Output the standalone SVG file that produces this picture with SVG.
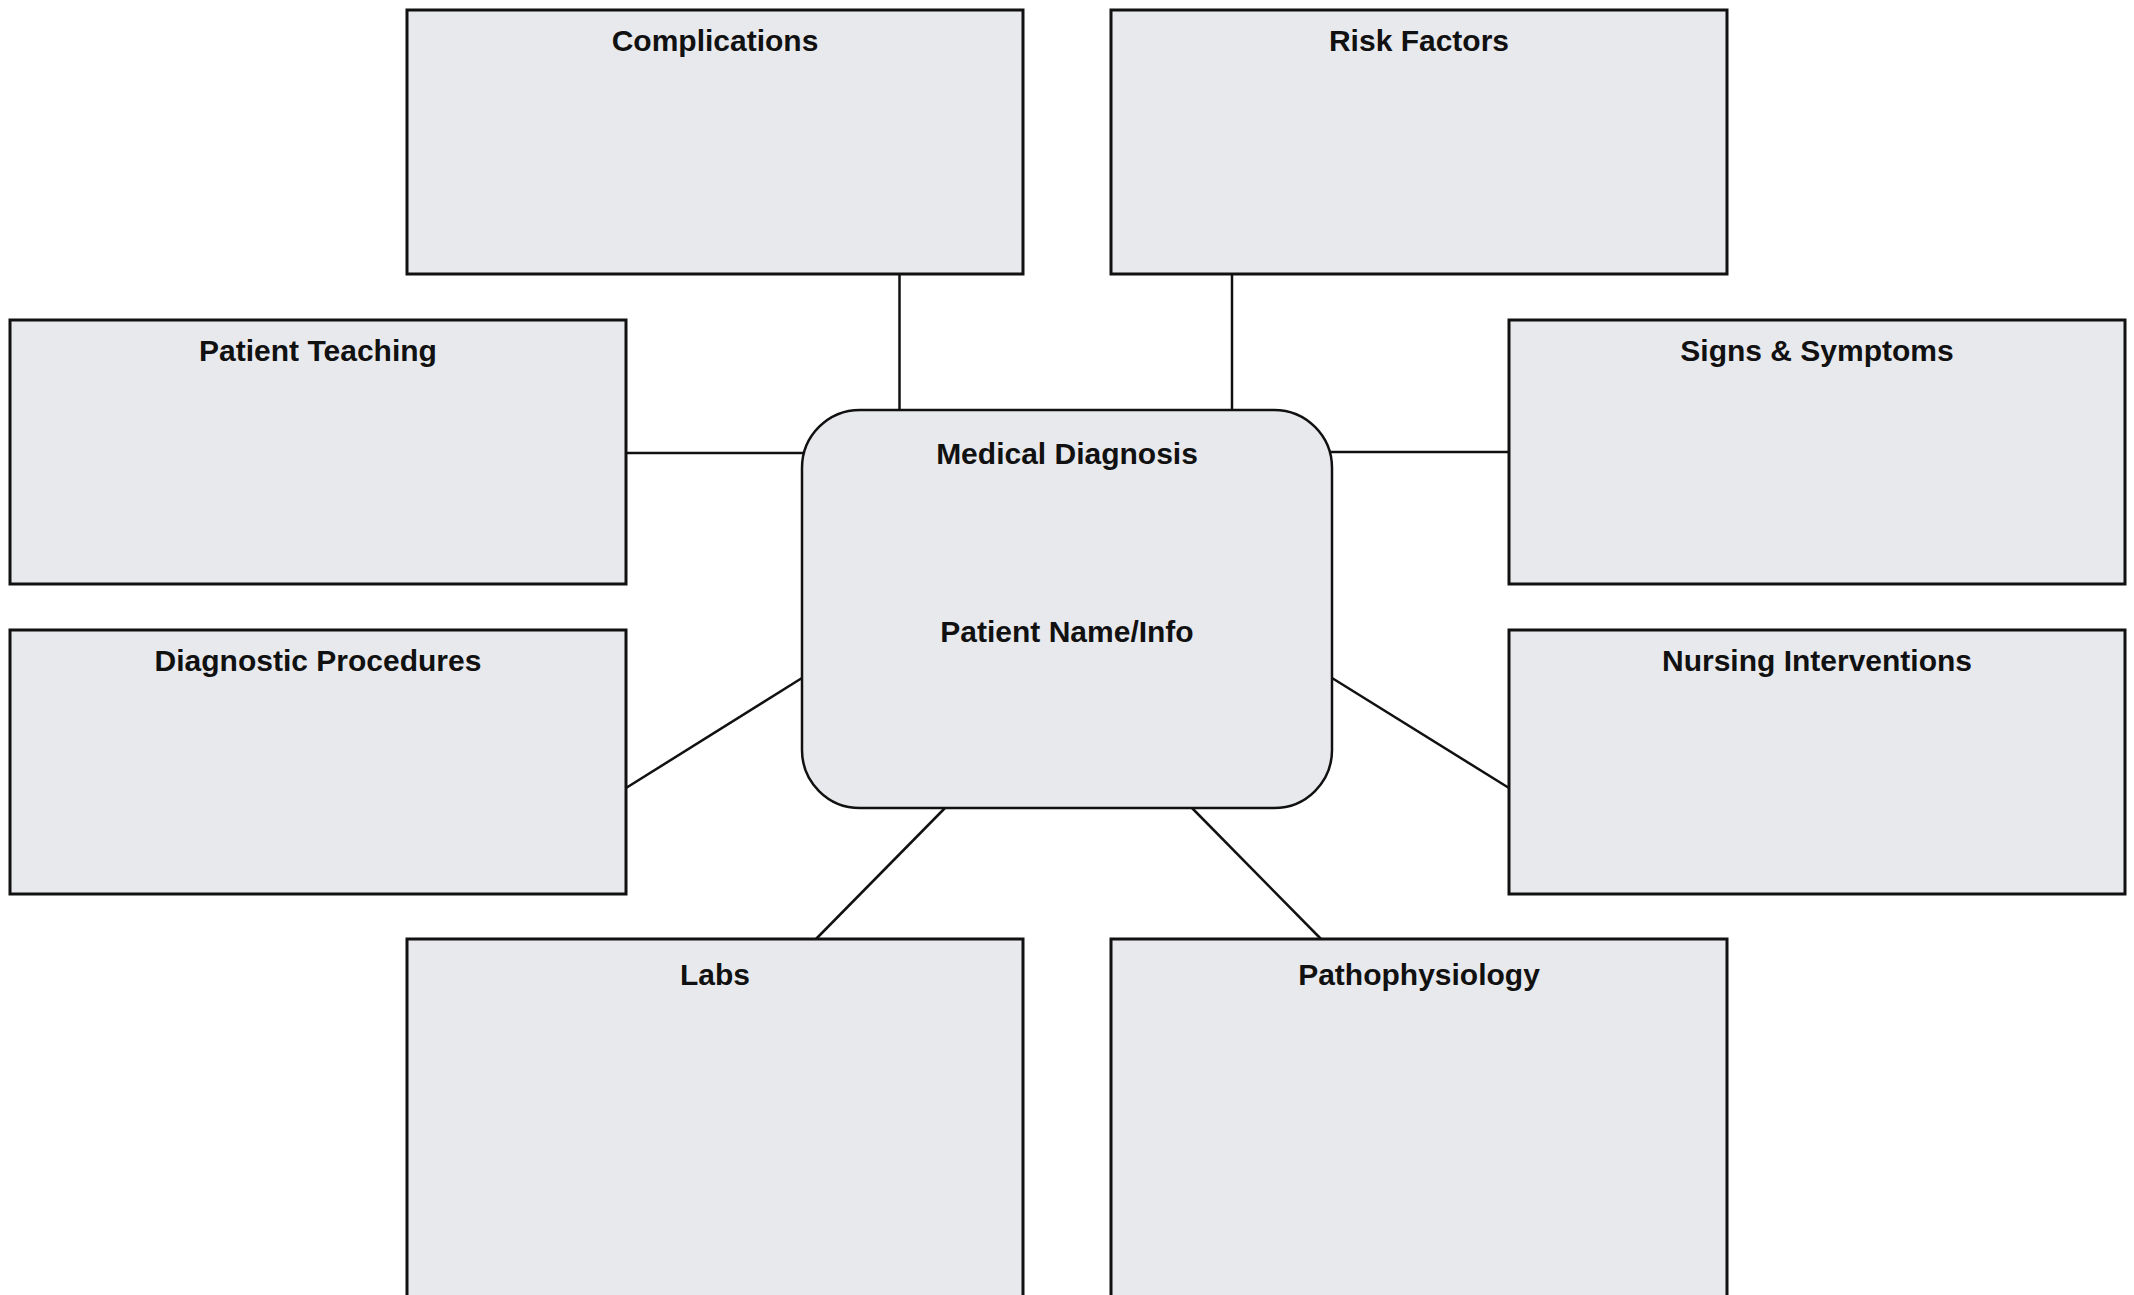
<svg xmlns="http://www.w3.org/2000/svg" width="2134" height="1295" viewBox="0 0 2134 1295">
<style>
.box{fill:#e8e9ed;stroke:#111;stroke-width:3}
.center{fill:#e8e9ed;stroke:#111;stroke-width:2.5}
.conn{stroke:#111;stroke-width:2.5;fill:none}
.t{font-family:"Liberation Sans",Arial,sans-serif;font-weight:bold;font-size:30px;fill:#111;text-anchor:middle}
</style>
<rect width="2134" height="1295" fill="#fff"/>
<g id="connectors">
<line class="conn" x1="899.5" y1="274" x2="899.5" y2="410"/>
<line class="conn" x1="1232" y1="274" x2="1232" y2="410"/>
<line class="conn" x1="626" y1="453" x2="805" y2="453"/>
<line class="conn" x1="1329" y1="452" x2="1509" y2="452"/>
<line class="conn" x1="626" y1="788" x2="802" y2="678"/>
<line class="conn" x1="1332" y1="678" x2="1509" y2="788"/>
<line class="conn" x1="945" y1="808" x2="816" y2="939"/>
<line class="conn" x1="1192" y1="808" x2="1321" y2="939"/>
</g>
<g id="complications"><rect class="box" x="407" y="10" width="616" height="264"/><text class="t" x="715" y="51">Complications</text></g>
<g id="risk-factors"><rect class="box" x="1111" y="10" width="616" height="264"/><text class="t" x="1419" y="51">Risk Factors</text></g>
<g id="patient-teaching"><rect class="box" x="10" y="320" width="616" height="264"/><text class="t" x="318" y="361">Patient Teaching</text></g>
<g id="signs-symptoms"><rect class="box" x="1509" y="320" width="616" height="264"/><text class="t" x="1817" y="361">Signs &amp; Symptoms</text></g>
<g id="diagnostic-procedures"><rect class="box" x="10" y="630" width="616" height="264"/><text class="t" x="318" y="671">Diagnostic Procedures</text></g>
<g id="nursing-interventions"><rect class="box" x="1509" y="630" width="616" height="264"/><text class="t" x="1817" y="671">Nursing Interventions</text></g>
<g id="labs"><rect class="box" x="407" y="939" width="616" height="420"/><text class="t" x="715" y="985">Labs</text></g>
<g id="pathophysiology"><rect class="box" x="1111" y="939" width="616" height="420"/><text class="t" x="1419" y="985">Pathophysiology</text></g>
<g id="medical-diagnosis"><rect class="center" x="802" y="410" width="530" height="398" rx="58" ry="58"/><text class="t" x="1067" y="464">Medical Diagnosis</text><text class="t" x="1067" y="642">Patient Name/Info</text></g>
</svg>
